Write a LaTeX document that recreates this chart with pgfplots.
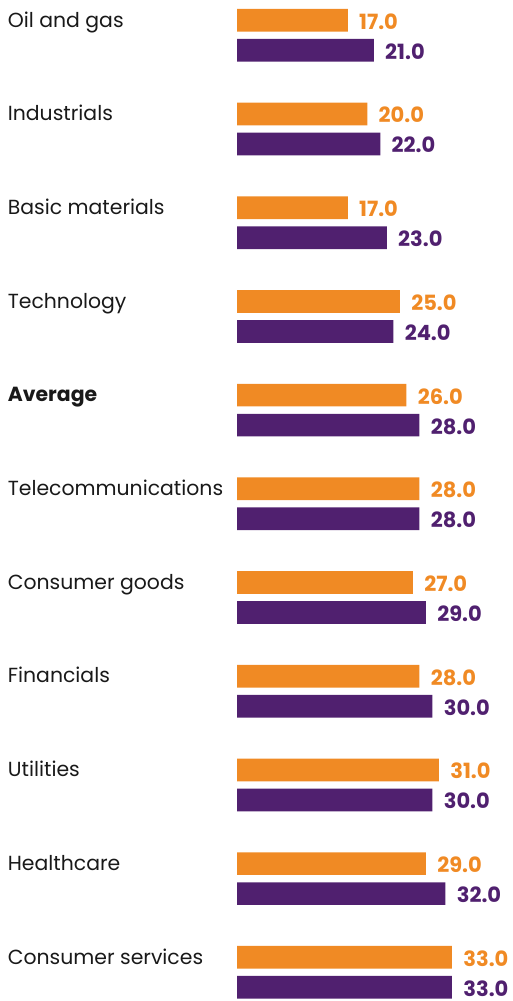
\documentclass[border=0pt]{standalone}
\usepackage{pgfplots}
\pgfplotsset{compat=1.18}
\usepackage{fontspec}
\setmainfont{Poppins}
\definecolor{korange}{HTML}{F08A24}
\definecolor{kpurple}{HTML}{50206F}
\begin{document}
\begin{tikzpicture}
\useasboundingbox (0,0) rectangle (256.5pt,500.5pt);
\begin{axis}[
at={(118.5pt,0pt)},anchor=south west,
scale only axis,width=107.5pt,height=500.5pt,
xmin=0,xmax=33,ymin=-0.377,ymax=10.306,
y dir=reverse,
xbar,bar width=11.35pt,bar shift=0pt,
clip=false,
axis line style={draw=none},
tick style={draw=none},
xtick=\empty,
ytick={0,...,10},
yticklabels={Oil and gas,Industrials,Basic materials,Technology,\textbf{Average},Telecommunications,Consumer goods,Financials,Utilities,Healthcare,Consumer services},
yticklabel style={anchor=base west,inner sep=0pt,xshift=-110.5pt,yshift=4.15pt,font=\fontsize{10.2}{12}\selectfont,text=black!90},
nodes near coords,
point meta=x,
nodes near coords style={anchor=west,inner sep=0pt,xshift=5.5pt,yshift=-0.6pt,font=\fontsize{10.5}{12}\selectfont\bfseries,
  /pgf/number format/fixed,/pgf/number format/precision=1,/pgf/number format/fixed zerofill,
  /pgf/number format/assume math mode=true},
]
\addplot[fill=korange,draw=none,nodes near coords style={text=korange}] coordinates {
(17,-0.16) (20,0.84) (17,1.84) (25,2.84) (26,3.84) (28,4.84) (27,5.84) (28,6.84) (31,7.84) (29,8.84) (33,9.84)};
\addplot[fill=kpurple,draw=none,nodes near coords style={text=kpurple}] coordinates {
(21,0.16) (22,1.16) (23,2.16) (24,3.16) (28,4.16) (28,5.16) (29,6.16) (30,7.16) (30,8.16) (32,9.16) (33,10.16)};
\end{axis}
\end{tikzpicture}
\end{document}
